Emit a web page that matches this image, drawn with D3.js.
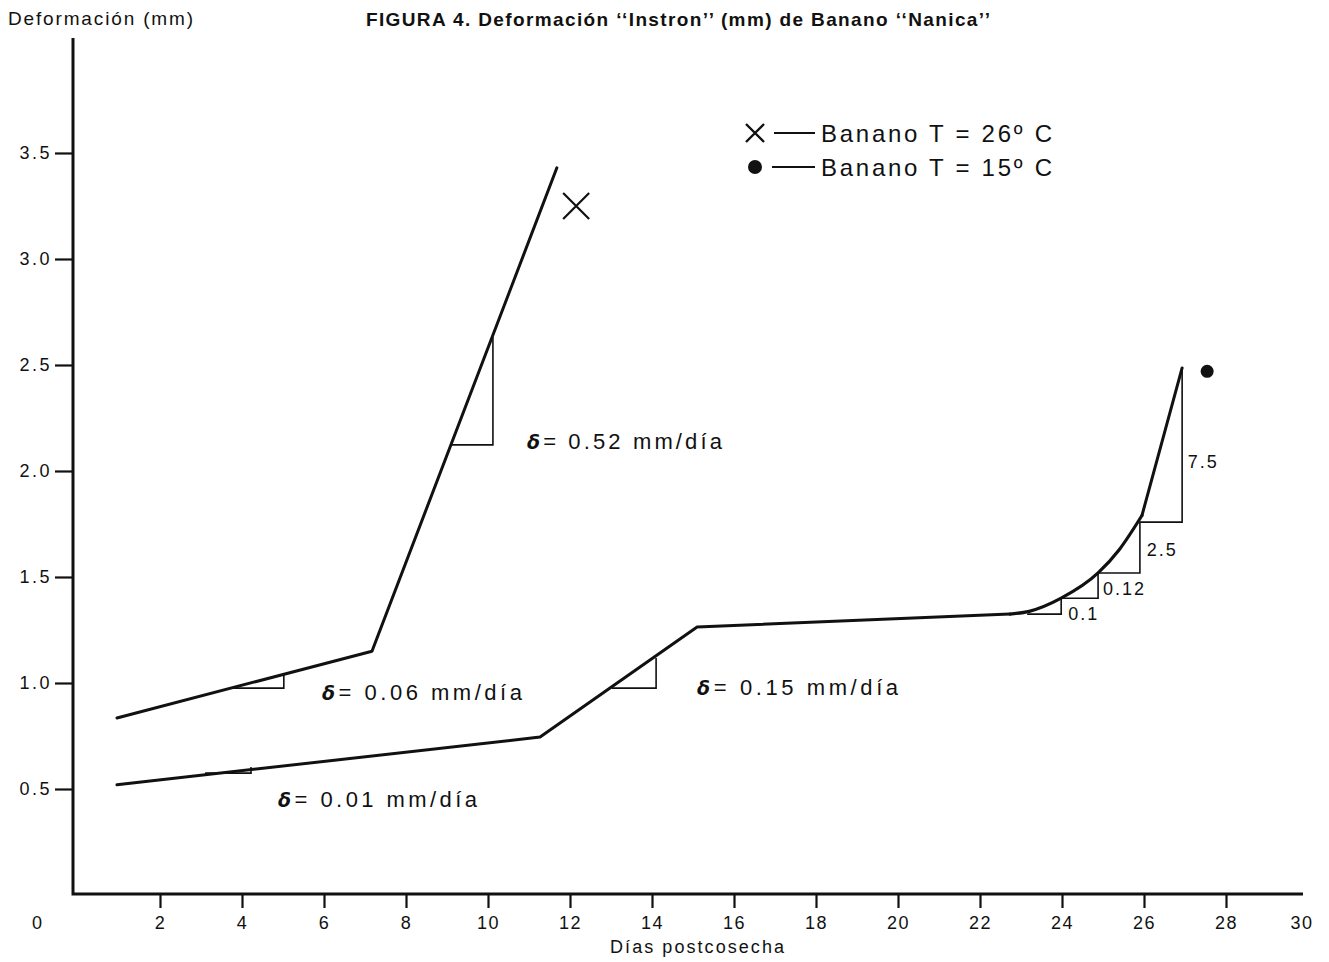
<!DOCTYPE html>
<html>
<head>
<meta charset="utf-8">
<script src="https://cdn.jsdelivr.net/npm/d3@7"></script>
<style>
  html, body { margin: 0; padding: 0; background: #fff; }
  svg { display: block; }
  text { font-family: "Liberation Sans", Arial, sans-serif; fill: #111; }
</style>
</head>
<body>
<svg id="chart" width="1329" height="962"></svg>
<script>
// ---------- DATA ----------
const xTickValues = [2,4,6,8,10,12,14,16,18,20,22,24,26,28];
const yTickValues = [0.5,1.0,1.5,2.0,2.5,3.0,3.5];

// Banano T = 26 C (days, mm)
const series26 = [[0.95,0.835],[7.17,1.15],[11.68,3.43]];
// Banano T = 15 C, straight part
const series15 = [[0.95,0.52],[11.27,0.745],[15.1,1.264],[22.73,1.325]];
// Banano T = 15 C, curved end part
const series15Curve = [[22.73,1.325],[23.2,1.338],[23.98,1.40],[24.88,1.519],[25.4,1.63],[25.95,1.79]];
const series15End = [[25.95,1.79],[26.93,2.486]];

// markers
const marker26 = [12.15,3.25];
const marker15 = [27.54,2.47];

// slope triangles: [xStart, xEnd, yBase, yTop]
const slopeTriangles = [
  [3.78,5.02,0.976,1.038],
  [9.1,10.12,2.123,2.632],
  [3.1,4.22,0.575,0.604],
  [13.02,14.1,0.976,1.118],
  [23.15,23.98,1.325,1.40],
  [23.98,24.88,1.40,1.519],
  [24.88,25.9,1.519,1.76],
  [25.9,26.93,1.759,2.486]
];

// slope labels: [x, y, value text, width]
const slopeLabels = [
  [10.95,2.104,"= 0.52 mm/día",195],
  [5.95,0.92,"= 0.06 mm/día",200],
  [15.1,0.943,"= 0.15 mm/día",201],
  [4.88,0.415,"= 0.01 mm/día",199]
];
const rateLabels = [
  [27.07,2.014,"7.5"],
  [26.07,1.599,"2.5"],
  [25.0,1.415,"0.12"],
  [24.15,1.297,"0.1"]
];
const legendLabels = ["Banano T =  26º C","Banano T =  15º C"];

// ---------- CHART ----------
const svg = d3.select("#chart");
const x = d3.scaleLinear().domain([0,30]).range([78,1308]);
const y = d3.scaleLinear().domain([0,4.04]).range([895,38.5]);

// y axis
const yAxis = d3.axisLeft(y).tickValues(yTickValues).tickSize(18).tickPadding(3)
  .tickFormat(d3.format(".1f")).tickSizeOuter(0);
const gy = svg.append("g").attr("transform","translate(73,0)").call(yAxis);
gy.select(".domain").remove();
gy.selectAll(".tick line").attr("stroke","#111").attr("stroke-width",2.2);
gy.selectAll(".tick text").style("font-size","18px").style("letter-spacing","2.5px").attr("fill","#222");

// x axis
const xAxis = d3.axisBottom(x).tickValues(xTickValues).tickSize(14).tickPadding(8)
  .tickFormat(d3.format("d")).tickSizeOuter(0);
const gx = svg.append("g").attr("transform","translate(0,894)").call(xAxis);
gx.select(".domain").remove();
gx.selectAll(".tick line").attr("stroke","#111").attr("stroke-width",2.2);
gx.selectAll(".tick text").style("font-size","18px").style("letter-spacing","1.5px").attr("fill","#222");

// axis lines
svg.append("path").attr("d",`M73,38 L73,894 L1303,894`)
  .attr("fill","none").attr("stroke","#111").attr("stroke-width",3);

// origin and end labels
svg.append("text").attr("x",37).attr("y",929).attr("text-anchor","middle")
  .style("font-size","18px").attr("fill","#222").text("0");
svg.append("text").attr("x",1302).attr("y",929).attr("text-anchor","middle")
  .style("font-size","18px").style("letter-spacing","1.5px").attr("fill","#222").text("30");

// axis titles
svg.append("text").attr("x",8).attr("y",25).style("font-size","19px")
  .attr("textLength",185).attr("lengthAdjust","spacing").text("Deformación (mm)");
svg.append("text").attr("x",697).attr("y",953).attr("text-anchor","middle").style("font-size","18px")
  .attr("textLength",174).attr("lengthAdjust","spacing").text("Días postcosecha");

// title
svg.append("text").attr("x",366).attr("y",26).style("font-size","19px").style("font-weight","bold")
  .attr("textLength",624).attr("lengthAdjust","spacing")
  .text("FIGURA 4. Deformación \u2018\u2018Instron\u2019\u2019 (mm) de Banano \u2018\u2018Nanica\u2019\u2019");

// lines
const line = d3.line().x(d=>x(d[0])).y(d=>y(d[1]));
const curveLine = d3.line().x(d=>x(d[0])).y(d=>y(d[1])).curve(d3.curveMonotoneX);
[series26, series15, series15End].forEach(s=>{
  svg.append("path").attr("d",line(s)).attr("fill","none").attr("stroke","#111")
    .attr("stroke-width",3).attr("stroke-linejoin","round").attr("stroke-linecap","round");
});
svg.append("path").attr("d",curveLine(series15Curve)).attr("fill","none").attr("stroke","#111")
  .attr("stroke-width",3.2).attr("stroke-linecap","round");

// slope triangles
slopeTriangles.forEach(t=>{
  svg.append("path")
    .attr("d",`M${x(t[0])},${y(t[2])} L${x(t[1])},${y(t[2])} L${x(t[1])},${y(t[3])}`)
    .attr("fill","none").attr("stroke","#111").attr("stroke-width",1.6);
});

// slope labels
slopeLabels.forEach(l=>{
  const t = svg.append("text").attr("x",x(l[0])).attr("y",y(l[1])).style("font-size","22px")
    .attr("textLength",l[3]).attr("lengthAdjust","spacing");
  t.append("tspan").style("font-weight","bold").style("font-style","italic")
    .style("font-family","'DejaVu Sans', sans-serif").style("font-size","19px").text("δ");
  t.append("tspan").text(l[2]);
});
rateLabels.forEach(l=>{
  svg.append("text").attr("x",x(l[0])).attr("y",y(l[1])).style("font-size","18px")
    .style("letter-spacing","2px").text(l[2]);
});

// markers
function drawX(cx, cy, r, w){
  svg.append("path").attr("d",`M${cx-r},${cy-r} L${cx+r},${cy+r} M${cx-r},${cy+r} L${cx+r},${cy-r}`)
    .attr("stroke","#111").attr("stroke-width",w).attr("fill","none");
}
drawX(x(marker26[0]), y(marker26[1]), 13, 2.2);
svg.append("circle").attr("cx",x(marker15[0])).attr("cy",y(marker15[1])).attr("r",6.5).attr("fill","#111");

// legend
drawX(755,133,9,2.4);
svg.append("line").attr("x1",774).attr("x2",815).attr("y1",133).attr("y2",133).attr("stroke","#111").attr("stroke-width",2);
svg.append("circle").attr("cx",755).attr("cy",167).attr("r",7).attr("fill","#111");
svg.append("line").attr("x1",772).attr("x2",815).attr("y1",167).attr("y2",167).attr("stroke","#111").attr("stroke-width",2);
legendLabels.forEach((s,i)=>{
  svg.append("text").attr("x",821).attr("y",142+i*34).style("font-size","24px")
    .attr("textLength",231).attr("lengthAdjust","spacing").text(s);
});
</script>
</body>
</html>
